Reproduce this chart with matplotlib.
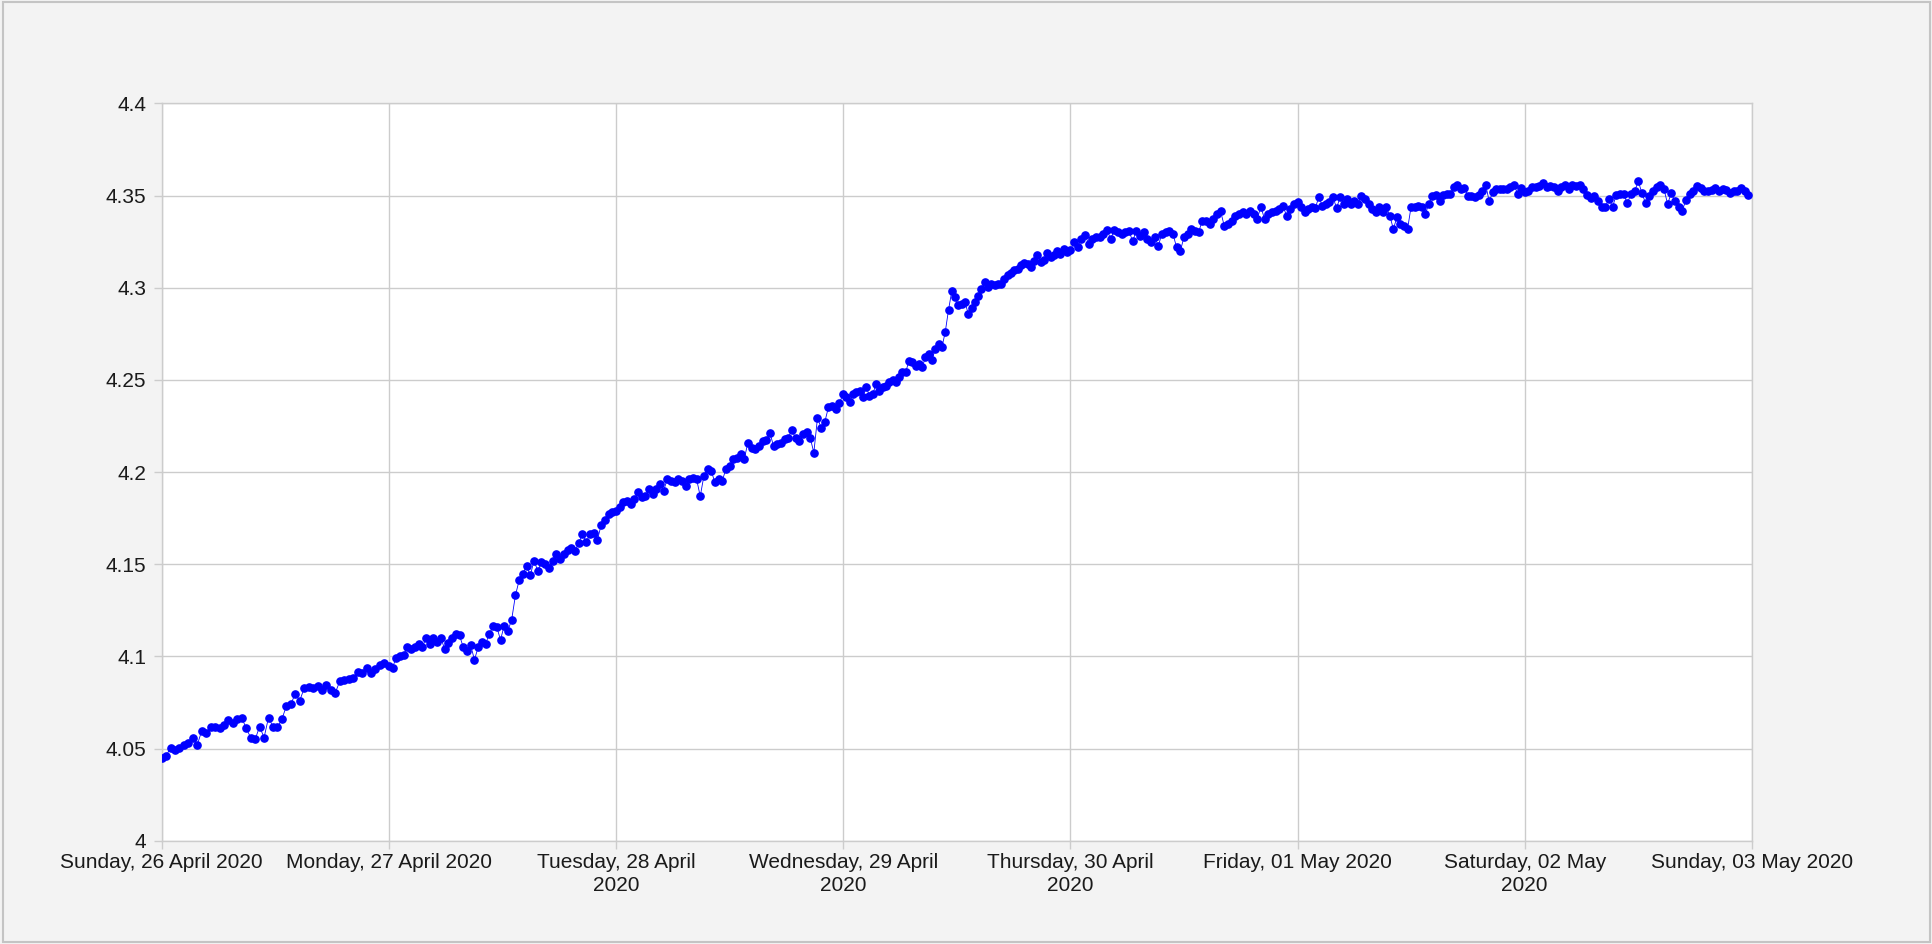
import matplotlib
matplotlib.use("Agg")
import matplotlib.pyplot as plt
import matplotlib.dates as mdates
from matplotlib.patches import Rectangle
from datetime import datetime, timedelta

plt.rcParams['font.family'] = ['Liberation Sans', 'DejaVu Sans']

# ---- data -------------------------------------------------------------
day_starts = ["2020-04-26", "2020-04-27", "2020-04-28", "2020-04-29",
              "2020-04-30", "2020-05-01", "2020-05-02"]
tick_dates = ["2020-04-26", "2020-04-27", "2020-04-28", "2020-04-29",
              "2020-04-30", "2020-05-01", "2020-05-02", "2020-05-03"]
tick_labels = ["Sunday, 26 April 2020", "Monday, 27 April 2020",
               "Tuesday, 28 April\n2020", "Wednesday, 29 April\n2020",
               "Thursday, 30 April\n2020", "Friday, 01 May 2020",
               "Saturday, 02 May\n2020", "Sunday, 03 May 2020"]
y_ticks = [4.0, 4.05, 4.1, 4.15, 4.2, 4.25, 4.3, 4.35, 4.4]
y_tick_labels = ["4", "4.05", "4.1", "4.15", "4.2", "4.25", "4.3", "4.35", "4.4"]

apr26 = [4.0451, 4.046, 4.0505, 4.049, 4.0505, 4.052, 4.053, 4.056, 4.052, 4.0596,
         4.0587, 4.062, 4.0617, 4.061, 4.063, 4.0653, 4.064, 4.066, 4.0668, 4.061,
         4.056, 4.055, 4.062, 4.056, 4.0668, 4.062, 4.0615, 4.066, 4.073, 4.074,
         4.0798, 4.076, 4.0827, 4.0834, 4.0827, 4.084, 4.082, 4.0845, 4.0816, 4.0803,
         4.0866, 4.0875, 4.088, 4.0885, 4.0917, 4.091, 4.094, 4.091, 4.093, 4.0953,
         4.0966]
apr27 = [4.0948, 4.094, 4.0994, 4.1003, 4.101, 4.105, 4.104, 4.105, 4.107, 4.105,
         4.110, 4.1065, 4.110, 4.108, 4.110, 4.104, 4.1075, 4.110, 4.112,
         4.1114, 4.105, 4.1029, 4.106, 4.0982, 4.105, 4.1078, 4.1069, 4.1123, 4.1163,
         4.116, 4.109, 4.1168, 4.114, 4.120, 4.1331, 4.1413, 4.145, 4.149, 4.144,
         4.152, 4.1464, 4.151, 4.1504, 4.148, 4.152, 4.1558, 4.153, 4.1558, 4.158,
         4.159, 4.157, 4.1616, 4.1663, 4.162, 4.1663, 4.167, 4.163, 4.1712, 4.1743,
         4.1775, 4.1784]
apr28 = [4.1791, 4.181, 4.1836, 4.1845, 4.1827, 4.1854, 4.189, 4.1863, 4.1872, 4.1908,
         4.1881, 4.1908, 4.1935, 4.1899, 4.1962, 4.1953, 4.1944, 4.1962, 4.1953, 4.1926,
         4.1962, 4.1968, 4.1962, 4.1869, 4.198, 4.2016, 4.2007, 4.1944, 4.1962, 4.1953,
         4.2016, 4.2034, 4.207, 4.2079, 4.2097, 4.207, 4.216, 4.2133, 4.2124, 4.2142,
         4.2169, 4.2173, 4.2214, 4.2142, 4.2151, 4.216, 4.2178, 4.2187, 4.2227, 4.2187,
         4.2169, 4.2205, 4.222, 4.2187, 4.2106, 4.2295, 4.224, 4.2273, 4.2353, 4.2358,
         4.234, 4.2376]
apr29 = [4.2424, 4.2406, 4.2379, 4.2424, 4.2433, 4.2438, 4.2409, 4.246, 4.2415, 4.2424,
         4.2478, 4.2442, 4.246, 4.2469, 4.2487, 4.25, 4.2487, 4.2514, 4.2542, 4.2542,
         4.2605, 4.2596, 4.2578, 4.2587, 4.2569, 4.2623, 4.2641, 4.2609, 4.2669, 4.2696,
         4.2678, 4.2759, 4.288, 4.2982, 4.2949, 4.2904, 4.2913, 4.2922, 4.2859, 4.2891,
         4.2922, 4.2958, 4.2995, 4.3031, 4.3004, 4.3018, 4.3013, 4.3022, 4.3018, 4.3049,
         4.3067, 4.308, 4.3094, 4.3103, 4.3122, 4.3134, 4.313, 4.3112, 4.3145, 4.3176,
         4.314, 4.3149, 4.3189, 4.3167, 4.3176, 4.3199, 4.3185, 4.3212, 4.3194]
apr30 = [4.3203, 4.3248, 4.3221, 4.3266, 4.3285, 4.3239, 4.3266, 4.3276, 4.3276, 4.3294,
         4.3312, 4.3266, 4.3312, 4.3303, 4.3294, 4.3301, 4.331, 4.3252, 4.331, 4.3283,
         4.3301, 4.3265, 4.3247, 4.3274, 4.3229, 4.3292, 4.3301, 4.331, 4.3292, 4.322,
         4.3198, 4.3274, 4.3292, 4.3319, 4.331, 4.3301, 4.3364, 4.3364, 4.3346, 4.3373,
         4.34, 4.3415, 4.3337, 4.3346, 4.3364, 4.3391, 4.34, 4.341, 4.34, 4.3419,
         4.34, 4.3373, 4.344, 4.3373, 4.34, 4.341, 4.3415, 4.3428, 4.3446, 4.3391,
         4.3428, 4.3455]
may01 = [4.3464, 4.3437, 4.341, 4.3428, 4.3437, 4.3433, 4.3491, 4.3446, 4.3455, 4.3464,
         4.3491, 4.3433, 4.3491, 4.3455, 4.3482, 4.3455, 4.3473, 4.3455, 4.35, 4.3482,
         4.3455, 4.3428, 4.341, 4.3437, 4.341, 4.344, 4.3391, 4.3319, 4.3382, 4.3346,
         4.3337, 4.3319, 4.344, 4.3437, 4.3446, 4.3437, 4.34, 4.3455, 4.35, 4.3505,
         4.3473, 4.3505, 4.3509, 4.3509, 4.3545, 4.356, 4.3536, 4.3542, 4.35, 4.35,
         4.3491, 4.3505, 4.3527, 4.356, 4.3469, 4.3518, 4.3536, 4.3536, 4.3536, 4.3536,
         4.3545, 4.356, 4.3509, 4.3542]
may02 = [4.3518, 4.3524, 4.3545, 4.3545, 4.3554, 4.3567, 4.3545, 4.3554, 4.3545, 4.3527,
         4.3545, 4.356, 4.3536, 4.356, 4.3554, 4.356, 4.3536, 4.3505, 4.3487, 4.35,
         4.3473, 4.344, 4.344, 4.3482, 4.344, 4.3505, 4.3509, 4.3509, 4.3458, 4.3509,
         4.3524, 4.3578, 4.3513, 4.3458, 4.35, 4.3524, 4.3545, 4.356, 4.3536, 4.3455,
         4.3513, 4.3469, 4.344, 4.3419, 4.3476, 4.3509, 4.3524, 4.3554, 4.3542, 4.3524,
         4.3524, 4.3531, 4.3542, 4.3524, 4.3536, 4.3531, 4.3513, 4.3524, 4.3527, 4.3542,
         4.3524, 4.3505]
daily_values = [apr26, apr27, apr28, apr29, apr30, may01, may02]

# ---- build time series --------------------------------------------------
times, values = [], []
for start, vals in zip(day_starts, daily_values):
    t0 = datetime.strptime(start, "%Y-%m-%d")
    step = timedelta(days=1) / len(vals)
    for i, v in enumerate(vals):
        times.append(t0 + i * step)
        values.append(v)

# ---- figure -------------------------------------------------------------
fig = plt.figure(figsize=(19.33, 9.44), dpi=100, facecolor="#f3f3f3")
ax = fig.add_axes([0.0836, 0.1093, 0.8227, 0.7811])
ax.set_facecolor("white")

ax.plot(times, values, color="#0000ff", lw=0.6, marker="o", ms=5.2,
        mfc="#0000ff", mec="#0000ff", zorder=3)

tick_dt = [datetime.strptime(d, "%Y-%m-%d") for d in tick_dates]
ax.set_xlim(tick_dt[0], tick_dt[-1])
ax.set_ylim(4.0, 4.4)
ax.set_xticks(tick_dt)
ax.set_xticklabels(tick_labels, ha="center", linespacing=1.25)
ax.set_yticks(y_ticks)
ax.set_yticklabels(y_tick_labels)

ax.grid(True, color="#cccccc", lw=1)
ax.set_axisbelow(True)
for sp in ax.spines.values():
    sp.set_color("#cccccc")
    sp.set_linewidth(1)

ax.tick_params(axis="both", length=6, width=1, color="#cccccc",
               labelsize=15, labelcolor="#1a1a1a")
ax.tick_params(axis="x", pad=3)
ax.tick_params(axis="y", pad=5)

fig.patches.append(Rectangle((0.0015, 0.002), 0.997, 0.996, transform=fig.transFigure,
                             fill=False, ec="#c4c4c4", lw=1.5))

fig.savefig("out.png", dpi=100, facecolor=fig.get_facecolor())
